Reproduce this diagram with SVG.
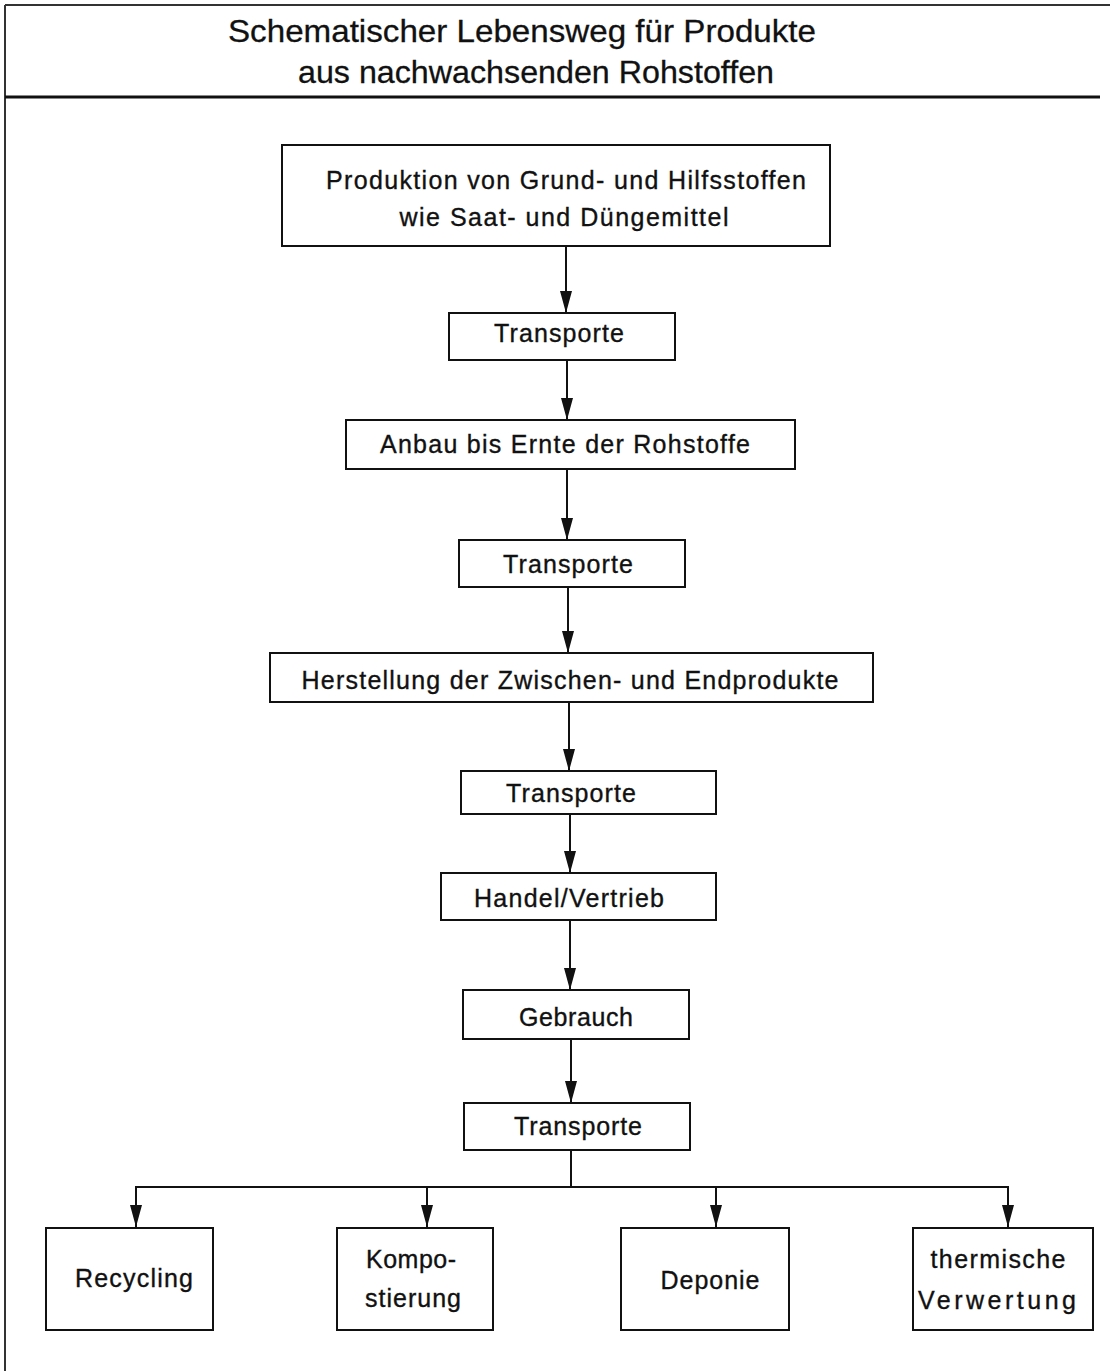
<svg xmlns="http://www.w3.org/2000/svg" width="1110" height="1371" viewBox="0 0 1110 1371">
<defs>
<style>
.box{fill:#fff;stroke:#111;stroke-width:2}
.t{font-family:"Liberation Sans",Arial,sans-serif;font-size:25px;fill:#111;stroke:#111;stroke-width:0.35;text-anchor:middle}
.title{font-family:"Liberation Sans",Arial,sans-serif;font-size:32px;fill:#111;stroke:#111;stroke-width:0.3;text-anchor:middle}
.c{stroke:#111;stroke-width:2;fill:none}
.a{marker-end:url(#ah)}
</style>
<marker id="ah" viewBox="0 0 22 12" markerWidth="22" markerHeight="12" refX="22" refY="6" orient="auto" markerUnits="userSpaceOnUse">
<path d="M0,0 L22,6 L0,12 Z" fill="#111"/>
</marker>
</defs>
<rect width="1110" height="1371" fill="#fff"/>
<g id="frame">
<line x1="5" y1="5" x2="1110" y2="5" stroke="#333" stroke-width="2"/>
<line x1="5" y1="5" x2="5" y2="1371" stroke="#333" stroke-width="2"/>
<line x1="5" y1="97" x2="1100" y2="97" stroke="#111" stroke-width="3"/>
</g>
<g id="title">
<text class="title" x="522" y="42" textLength="588" lengthAdjust="spacingAndGlyphs">Schematischer Lebensweg für Produkte</text>
<text class="title" x="536" y="83" textLength="476" lengthAdjust="spacingAndGlyphs">aus nachwachsenden Rohstoffen</text>
</g>
<g id="connectors">
<line class="c a" x1="566" y1="246" x2="566" y2="313"/>
<line class="c a" x1="567" y1="360" x2="567" y2="420"/>
<line class="c a" x1="567" y1="469" x2="567" y2="540"/>
<line class="c a" x1="568" y1="587" x2="568" y2="653"/>
<line class="c a" x1="569" y1="702" x2="569" y2="771"/>
<line class="c a" x1="570" y1="814" x2="570" y2="873"/>
<line class="c a" x1="570" y1="920" x2="570" y2="990"/>
<line class="c a" x1="571" y1="1039" x2="571" y2="1103"/>
<line class="c" x1="571" y1="1150" x2="571" y2="1187"/>
<line class="c" x1="135" y1="1187" x2="1009" y2="1187"/>
<line class="c a" x1="136" y1="1186" x2="136" y2="1227"/>
<line class="c a" x1="427" y1="1186" x2="427" y2="1227"/>
<line class="c a" x1="716" y1="1186" x2="716" y2="1227"/>
<line class="c a" x1="1008" y1="1186" x2="1008" y2="1227"/>
</g>
<g id="n1">
<rect class="box" x="282" y="145" width="548" height="101"/>
<text class="t" x="566" y="189" textLength="480">Produktion von Grund- und Hilfsstoffen</text>
<text class="t" x="564" y="226" textLength="329">wie Saat- und Düngemittel</text>
</g>
<g id="n2">
<rect class="box" x="449" y="313" width="226" height="47"/>
<text class="t" x="559" y="342" textLength="130">Transporte</text>
</g>
<g id="n3">
<rect class="box" x="346" y="420" width="449" height="49"/>
<text class="t" x="565" y="453" textLength="370">Anbau bis Ernte der Rohstoffe</text>
</g>
<g id="n4">
<rect class="box" x="459" y="540" width="226" height="47"/>
<text class="t" x="568" y="573" textLength="130">Transporte</text>
</g>
<g id="n5">
<rect class="box" x="270" y="653" width="603" height="49"/>
<text class="t" x="570" y="689" textLength="537">Herstellung der Zwischen- und Endprodukte</text>
</g>
<g id="n6">
<rect class="box" x="461" y="771" width="255" height="43"/>
<text class="t" x="571" y="802" textLength="130">Transporte</text>
</g>
<g id="n7">
<rect class="box" x="441" y="873" width="275" height="47"/>
<text class="t" x="569" y="907" textLength="190">Handel/Vertrieb</text>
</g>
<g id="n8">
<rect class="box" x="463" y="990" width="226" height="49"/>
<text class="t" x="576" y="1026" textLength="114">Gebrauch</text>
</g>
<g id="n9">
<rect class="box" x="464" y="1103" width="226" height="47"/>
<text class="t" x="578" y="1135" textLength="128">Transporte</text>
</g>
<g id="n10">
<rect class="box" x="46" y="1228" width="167" height="102"/>
<text class="t" x="134" y="1287" textLength="118">Recycling</text>
</g>
<g id="n11">
<rect class="box" x="337" y="1228" width="156" height="102"/>
<text class="t" x="411" y="1268" textLength="90">Kompo-</text>
<text class="t" x="413" y="1307" textLength="96">stierung</text>
</g>
<g id="n12">
<rect class="box" x="621" y="1228" width="168" height="102"/>
<text class="t" x="710" y="1289" textLength="99">Deponie</text>
</g>
<g id="n13">
<rect class="box" x="913" y="1228" width="180" height="102"/>
<text class="t" x="998" y="1268" textLength="135">thermische</text>
<text class="t" x="997" y="1309" textLength="158">Verwertung</text>
</g>
</svg>
